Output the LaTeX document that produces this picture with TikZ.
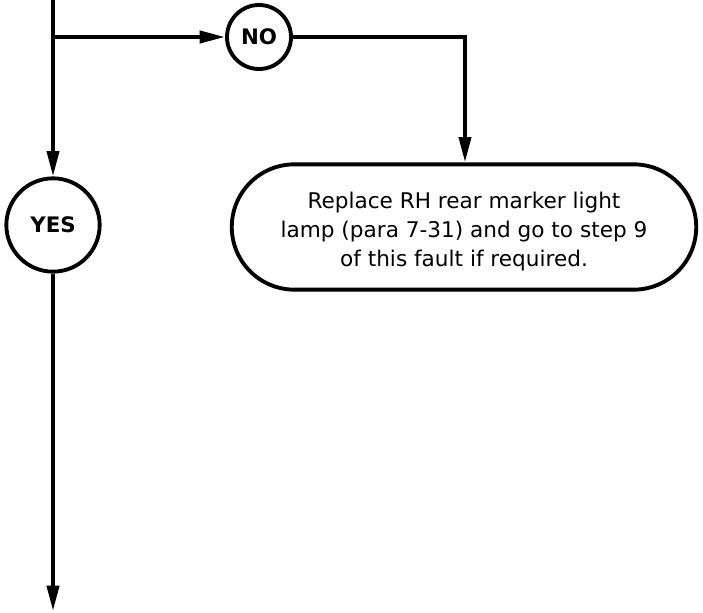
\documentclass[tikz,border=0pt]{standalone}
\usepackage{fontspec}
\setmainfont{DejaVu Sans}
\usetikzlibrary{arrows.meta,shapes.misc}
\begin{document}
\begin{tikzpicture}[x=0.75pt,y=-0.75pt,
  line/.style={line width=2.9pt},
  arr/.style={line, -{Triangle[length=19pt,width=9pt]}},
  circ/.style={circle, draw, line width=2.9pt, inner sep=0pt, font=\bfseries\fontsize{16}{18}\selectfont},
  term/.style={rounded rectangle, draw, line width=2.9pt, minimum width=355pt, minimum height=94pt, font=\fontsize{16.2}{21.75}\selectfont}]
\useasboundingbox (0,0) rectangle (703,613);
\node[circ, minimum size=48pt] (no) at (259,37) {NO};
\node[circ, minimum size=70pt] (yes) at (53,225) {YES};
\node[term] (box) at (464,227) {\raisebox{-3.75pt}[\height][\depth]{\begin{tabular}{@{}c@{}}Replace RH rear marker light\\lamp (para 7-31) and go to step 9\\of this fault if required.\end{tabular}}};
\coordinate (top) at (53,0);
\coordinate (split) at (53,37);
\coordinate (bend) at (465,37);
\coordinate (end) at (53,611);
\draw[line] (top) -- (split);
\draw[arr] (split) -- (yes.north);
\draw[arr] (split) -- (no.west);
\draw[arr] (no.east) -- (bend) -- (box.north -| bend);
\draw[arr] (yes.south) -- (end);
\end{tikzpicture}
\end{document}
